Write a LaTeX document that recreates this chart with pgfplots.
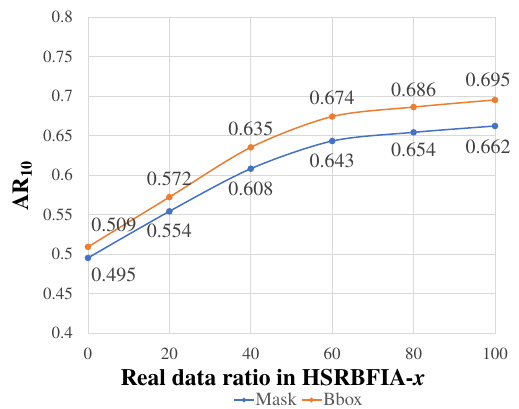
\documentclass[border=0pt]{standalone}
\usepackage{fontspec}
\IfFontExistsTF{texgyretermes-regular.otf}{%
  \setmainfont{texgyretermes}[Extension=.otf, UprightFont=*-regular, BoldFont=*-bold,
    ItalicFont=*-italic, BoldItalicFont=*-bolditalic]}{%
  \setmainfont{Liberation Serif}}
\usepackage{pgfplots}
\usepackage{pgfplotstable}
\pgfplotsset{compat=1.18}
\definecolor{maskc}{HTML}{4472C4}
\definecolor{bboxc}{HTML}{ED7D31}
\definecolor{gridc}{HTML}{D9D9D9}
\definecolor{txt}{HTML}{404040}
\definecolor{legc}{HTML}{595959}

\pgfplotstableread{
x   y     lab   dx  dy
0   0.495 0.495 26  -9
20  0.554 0.554 0   -12
40  0.608 0.608 0   -12
60  0.643 0.643 0   -12
80  0.654 0.654 0   -10
100 0.662 0.662 -7  -13
}\maskdata
\pgfplotstableread{
x   y     lab   dx  dy
0   0.509 0.509 26  14
20  0.572 0.572 0   11
40  0.635 0.635 0   11
60  0.674 0.674 0   11
80  0.686 0.686 0   10
100 0.695 0.695 -7  12
}\bboxdata

\begin{document}
\begin{tikzpicture}
\useasboundingbox (-88bp,-76bp) rectangle (431bp,333bp);
\begin{axis}[
  at={(0,0)}, anchor=south west,
  scale only axis, width=407bp, height=316bp,
  xmin=0, xmax=100, ymin=0.4, ymax=0.8,
  xtick={0,20,40,60,80,100},
  ytick={0.4,0.45,0.5,0.55,0.6,0.65,0.7,0.75,0.8},
  grid=major, major grid style={draw=gridc, line width=0.75bp},
  axis line style={draw=gridc, line width=0.75bp},
  major tick length=0pt,
  /pgf/number format/assume math mode=true,
  xticklabel={\pgfmathprintnumber[assume math mode=true]{\tick}},
  yticklabel={\pgfmathprintnumber[assume math mode=true,fixed,precision=2]{\tick}},
  tick label style={inner sep=0pt, text=txt, font=\fontsize{17bp}{20bp}\selectfont},
  yticklabel style={xshift=-15bp},
  xticklabel style={yshift=-15bp},
  xlabel={\textbf{Real data ratio in HSRBFIA-\textit{x}}},
  xlabel style={at={(axis description cs:0.4545,-0.1646)}, anchor=base, inner sep=0pt, font=\fontsize{23.5bp}{26bp}\selectfont},
  ylabel={\textbf{AR\textsubscript{10}}},
  ylabel style={at={(axis description cs:-0.162,0.465)}, anchor=center, inner sep=0pt, font=\fontsize{23bp}{26bp}\selectfont},
  clip=false,
  legend style={at={(axis description cs:0.517,-0.212)}, anchor=center, draw=none, fill=none,
    legend columns=2, font=\fontsize{18.5bp}{20bp}\selectfont, text=legc,
    /tikz/every even column/.append style={column sep=3bp},
    inner sep=0pt, nodes={inner sep=1bp}},
  legend image code/.code={\draw[mark repeat=2,mark phase=2,mark size=1.5bp] plot coordinates {(0bp,0bp)(10bp,0bp)(20bp,0bp)};},
]
\addplot[maskc, line width=1.5bp, smooth, tension=0.5, mark=*, mark size=2.5bp,
  mark options={solid, fill=maskc, draw=maskc},
  nodes near coords, point meta=explicit symbolic,
  visualization depends on={\thisrow{dx} \as \dx},
  visualization depends on={\thisrow{dy} \as \dy},
  nodes near coords style={anchor=north, inner sep=0pt, text=txt,
    font=\fontsize{20bp}{24bp}\selectfont, xshift=\dx bp, yshift=\dy bp}]
  table[x=x, y=y, meta=lab] {\maskdata};
\addlegendentry{Mask}
\addplot[bboxc, line width=1.5bp, smooth, tension=0.5, mark=*, mark size=2.5bp,
  mark options={solid, fill=bboxc, draw=bboxc},
  nodes near coords, point meta=explicit symbolic,
  visualization depends on={\thisrow{dx} \as \dx},
  visualization depends on={\thisrow{dy} \as \dy},
  nodes near coords style={anchor=south, inner sep=0pt, text=txt,
    font=\fontsize{20bp}{24bp}\selectfont, xshift=\dx bp, yshift=\dy bp}]
  table[x=x, y=y, meta=lab] {\bboxdata};
\addlegendentry{Bbox}
\end{axis}
\end{tikzpicture}
\end{document}
